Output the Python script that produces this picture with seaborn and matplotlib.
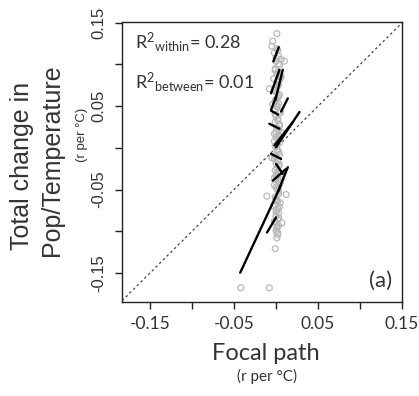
import numpy as np
import pandas as pd
import matplotlib
matplotlib.use("Agg")
import matplotlib.pyplot as plt
import seaborn as sns

# ---- data ----
pts_x = [0.001, -0.002, 0.003, 0.000, 0.004, -0.001, 0.002, 0.005, -0.003, 0.001,
         0.003, -0.002, 0.000, 0.004, 0.002, -0.001, 0.003, 0.001, -0.002, 0.005,
         0.000, 0.002, -0.001, 0.004, 0.001, 0.003, -0.002, 0.000, 0.002, 0.004,
         -0.001, 0.001, 0.003, 0.000, -0.002, 0.002, 0.004, 0.001, -0.001, 0.003,
         0.000, 0.002, 0.005, -0.002, 0.001, 0.003, 0.000, 0.002, -0.001, 0.004,
         0.001, 0.003, 0.000, 0.002, -0.001, 0.003, 0.001, 0.000, 0.002, 0.001,
         -0.042, -0.008, -0.001, 0.001, -0.004, 0.006, 0.010, -0.008, -0.005,
         -0.011, 0.012, 0.007,
         0.002, 0.000, 0.003, -0.001, 0.001, 0.004, 0.002, -0.002, 0.003, 0.000,
         0.001, 0.005, -0.001, 0.002, 0.004, 0.000, 0.003, -0.002, 0.001, 0.002,
         0.004, -0.001, 0.000, 0.003, 0.002, 0.001, -0.002, 0.004, 0.000, 0.002,
         0.003, -0.001, 0.001, 0.005, 0.002, 0.000, 0.003, -0.002, 0.001, 0.002,
         0.006, -0.004, 0.007, -0.005, 0.006, -0.003]
pts_y = [0.119, 0.114, 0.110, 0.104, 0.099, 0.095, 0.091, 0.086, 0.083, 0.079,
         0.076, 0.071, 0.067, 0.064, 0.060, 0.056, 0.053, 0.049, 0.046, 0.042,
         0.038, 0.035, 0.031, 0.028, 0.024, 0.021, 0.017, 0.013, 0.010, 0.006,
         0.002, -0.002, -0.005, -0.009, -0.013, -0.016, -0.020, -0.024, -0.027, -0.031,
         -0.034, -0.038, -0.042, -0.045, -0.049, -0.052, -0.061, -0.064, -0.068, -0.071,
         -0.075, -0.078, -0.082, -0.086, -0.089, -0.093, -0.097, -0.100, -0.104, -0.108,
         -0.168, -0.168, -0.121, 0.137, 0.128, 0.106, 0.104, 0.071, 0.122,
         -0.058, -0.056, -0.090,
         0.117, 0.108, 0.101, 0.093, 0.088, 0.081, 0.074, 0.069, 0.062, 0.058,
         0.051, 0.044, 0.040, 0.033, 0.026, 0.019, 0.015, 0.008, 0.004, -0.003,
         -0.008, -0.011, -0.018, -0.022, -0.029, -0.033, -0.036, -0.040, -0.047, -0.050,
         -0.055, -0.059, -0.063, -0.066, -0.073, -0.077, -0.084, -0.088, -0.095, -0.102,
         0.085, 0.052, 0.018, -0.012, -0.038, -0.070]

seg_x0 = [-0.0427, -0.0108, 0.0020, 0.0000, -0.0060, 0.0000, -0.0020, -0.0080,
          -0.0060, -0.0060, 0.0060, -0.0008, -0.0060, -0.0032, -0.0040]
seg_y0 = [-0.1498, -0.1016, -0.0534, -0.0193, -0.0072, 0.0008, 0.0028, 0.0289,
          0.0446, 0.0454, 0.0434, 0.0575, 0.0654, 0.1036, -0.0394]
seg_x1 = [0.0060, 0.0000, 0.0140, 0.0080, 0.0060, 0.0279, 0.0200, 0.0040,
          0.0024, 0.0000, 0.0140, 0.0080, 0.0040, 0.0032, 0.0120]
seg_y1 = [-0.0446, -0.0835, -0.0233, -0.0313, -0.0133, 0.0430, 0.0310, 0.0229,
          0.0398, 0.0614, 0.0594, 0.0936, 0.0936, 0.1208, -0.0253]

tick_vals = [-0.15, -0.10, -0.05, 0.0, 0.05, 0.10, 0.15]
tick_labels = ["-0.15", "", "-0.05", "", "0.05", "", "0.15"]

r2_within = "0.28"
r2_between = "0.01"

# ---- style ----
sns.set_style("white")
plt.rcParams["font.family"] = ["Lato", "DejaVu Sans"]
plt.rcParams["mathtext.fontset"] = "custom"
plt.rcParams["mathtext.rm"] = "Lato"
plt.rcParams["mathtext.it"] = "Lato"
plt.rcParams["mathtext.bf"] = "Lato"

txt = "#333333"

fig = plt.figure(figsize=(4.19, 3.96), dpi=100)
ax = fig.add_axes([122/419, 1-302/396, 280/419, 280/396])

pts = pd.DataFrame({"x": pts_x, "y": pts_y})
sns.scatterplot(data=pts, x="x", y="y", ax=ax, marker="o", s=18,
                facecolor="none", edgecolor="#b8b8b8", linewidth=0.9, zorder=2)

rows = []
for i, (a, b, c, d) in enumerate(zip(seg_x0, seg_y0, seg_x1, seg_y1)):
    rows.append({"seg": i, "x": a, "y": b})
    rows.append({"seg": i, "x": c, "y": d})
segs = pd.DataFrame(rows)
sns.lineplot(data=segs, x="x", y="y", units="seg", estimator=None, sort=False,
             color="black", linewidth=1.7, ax=ax, zorder=3)

ax.axline((0, 0), slope=1, color="#444444", linestyle=(0, (2, 2.2)), linewidth=0.9, zorder=1)

ax.set_xlim(-0.1835, 0.15)
ax.set_ylim(-0.185, 0.151)

for s in ax.spines.values():
    s.set_color("#222222")
    s.set_linewidth(1.0)

ax.set_xticks(tick_vals)
ax.set_xticklabels(tick_labels, fontsize=12.5, color=txt, family="Lato")
ax.set_yticks(tick_vals)
ax.set_yticklabels(tick_labels, fontsize=12, color=txt, family="Liberation Sans",
                   rotation=90, va="center")
ax.tick_params(axis="both", which="major", direction="out", length=5, width=1.0,
               color="#222222", bottom=True, left=True)
ax.tick_params(axis="x", pad=5)
ax.tick_params(axis="y", pad=6)
ax.set_xlabel("")
ax.set_ylabel("")

# annotations
ax.text(135/419, 1-42/396, r"R$^{2}{}_{\mathrm{within}}$= " + r2_within,
        transform=fig.transFigure, fontsize=13, color=txt, va="center", ha="left")
ax.text(135/419, 1-82/396, r"R$^{2}{}_{\mathrm{between}}$= " + r2_between,
        transform=fig.transFigure, fontsize=13, color=txt, va="center", ha="left")
fig.text(381/419, 1-281/396, "(a)", fontsize=16, color=txt, ha="center", va="center")

# axis titles
fig.text(22/419, 1-166/396, "Total change in", rotation=90, fontsize=18,
         family="Liberation Sans", color=txt, ha="center", va="center")
fig.text(52/419, 1-160/396, "Pop/Temperature", rotation=90, fontsize=18,
         family="Liberation Sans", color=txt, ha="center", va="center")
fig.text(82/419, 1-135/396, "(r per °C)", rotation=90, fontsize=9.5,
         family="Liberation Sans", color=txt, ha="center", va="center")
fig.text(266/419, 1-353/396, "Focal path", fontsize=17, color=txt,
         ha="center", va="center")
fig.text(267/419, 1-376/396, "(r per °C)", fontsize=11, color=txt,
         ha="center", va="center")

fig.savefig("out.png", dpi=100)
